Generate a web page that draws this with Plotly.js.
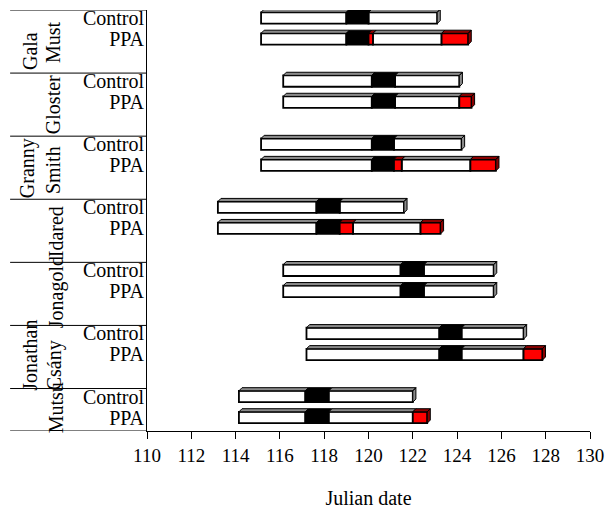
<!DOCTYPE html>
<html>
<head>
<meta charset="utf-8">
<script src="https://cdn.plot.ly/plotly-3.0.1.min.js"></script>
<style>html,body{margin:0;padding:0;background:#fff;}</style>
</head>
<body>
<div id="chart" style="width:613px;height:509px;"></div>
<script>
// ---- data (Julian dates) ----
const varieties = ["Gala Must", "Gloster", "Granny Smith", "Idared", "Jonagold", "Jonathan Csány", "Mutsu"];
const treatments = ["Control", "PPA"];
const ctrlStart      = [115.15, 116.15, 115.15, 113.2, 116.15, 117.2, 114.15];
const ctrlBlackStart = [119.0, 120.15, 120.15, 117.65, 121.45, 123.2, 117.15];
const ctrlBlackEnd   = [120.0, 121.2, 121.15, 118.7, 122.5, 124.2, 118.2];
const ctrlEnd        = [123.1, 124.1, 124.2, 121.6, 125.65, 127.0, 122.0];
const ppaStart       = [115.15, 116.15, 115.15, 113.2, 116.15, 117.2, 114.15];
const ppaBlackStart  = [119.0, 120.15, 120.15, 117.65, 121.45, 123.2, 117.15];
const ppaBlackEnd    = [120.0, 121.2, 121.15, 118.7, 122.5, 124.2, 118.2];
const ppaRed1End     = [120.2, 121.2, 121.5, 119.3, 122.5, 124.2, 118.2];
const ppaWhiteEnd    = [123.3, 124.1, 124.6, 122.35, 125.65, 127.0, 122.0];
const ppaEnd         = [124.5, 124.65, 125.75, 123.25, 125.65, 127.85, 122.65];
const xTicks = [110, 112, 114, 116, 118, 120, 122, 124, 126, 128, 130];

// ---- build rows ----
const rows = [];
varieties.forEach((v, g) => {
  rows.push({ y: 3 * g, label: treatments[0], segs: [
    [ctrlStart[g], ctrlBlackStart[g], 'w'],
    [ctrlBlackStart[g], ctrlBlackEnd[g], 'k'],
    [ctrlBlackEnd[g], ctrlEnd[g], 'w']
  ]});
  rows.push({ y: 3 * g + 1, label: treatments[1], segs: [
    [ppaStart[g], ppaBlackStart[g], 'w'],
    [ppaBlackStart[g], ppaBlackEnd[g], 'k'],
    [ppaBlackEnd[g], ppaRed1End[g], 'r'],
    [ppaRed1End[g], ppaWhiteEnd[g], 'w'],
    [ppaWhiteEnd[g], ppaEnd[g], 'r']
  ].filter(s => s[1] - s[0] > 0.001)});
});

const frontCol = { w: '#ffffff', k: '#000000', r: '#ff0000' };
const faceCol  = { w: '#8a8a8a', k: '#000000', r: '#8b0000' };
const BW = 0.54;       // bar thickness (y units)
const DX = 0.14, DY = 0.15; // 3-D depth

const traces = [];
// front faces
['w', 'k', 'r'].forEach(c => {
  const ys = [], bases = [], lens = [];
  rows.forEach(r => r.segs.forEach(s => {
    if (s[2] === c) { ys.push(r.y); bases.push(s[0]); lens.push(s[1] - s[0]); }
  }));
  traces.push({
    type: 'bar', orientation: 'h', y: ys, base: bases, x: lens, width: BW,
    marker: { color: frontCol[c], line: { color: '#000', width: 1.8 } },
    hoverinfo: 'skip', showlegend: false
  });
});
// top and side faces
['w', 'k', 'r'].forEach(c => {
  const px = [], py = [];
  rows.forEach(r => {
    const yt = r.y - BW / 2, yb = r.y + BW / 2;
    r.segs.forEach((s, i) => {
      if (s[2] !== c) return;
      px.push(s[0], s[1], s[1] + DX, s[0] + DX, s[0], null);
      py.push(yt, yt, yt - DY, yt - DY, yt, null);
      if (i === r.segs.length - 1) {
        px.push(s[1], s[1] + DX, s[1] + DX, s[1], s[1], null);
        py.push(yt, yt - DY, yb - DY, yb, yt, null);
      }
    });
  });
  traces.push({
    type: 'scatter', mode: 'lines', x: px, y: py, fill: 'toself',
    fillcolor: faceCol[c], line: { color: '#000', width: 1 },
    hoverinfo: 'skip', showlegend: false, connectgaps: false
  });
});

// group separators & variety labels
const shapes = [];
const annotations = [];
const sepX0 = -0.309;
for (let g = 0; g < varieties.length; g++) {
  shapes.push({ type: 'line', xref: 'paper', yref: 'y', x0: sepX0, x1: 0, y0: 3 * g - 0.38, y1: 3 * g - 0.38, line: { color: '#000', width: 1 } });
}
shapes.push({ type: 'line', xref: 'paper', yref: 'y', x0: sepX0, x1: 0, y0: 19.64, y1: 19.64, line: { color: '#000', width: 1 } });

const labelFont = { family: 'Liberation Serif, Times New Roman, serif', size: 20, color: '#000' };
const varLabels = [
  ['Gala', -0.264, 1.57], ['Must', -0.212, 1.14],
  ['Gloster', -0.212, 4.14],
  ['Granny', -0.268, 7.13], ['Smith', -0.212, 7.23],
  ['Idared', -0.205, 10.18],
  ['Jonagold', -0.205, 13.03],
  ['Jonathan', -0.266, 16.05], ['Csány', -0.207, 16.5],
  ['Mutsu', -0.205, 18.55]
];
varLabels.forEach(l => annotations.push({
  text: l[0], xref: 'paper', yref: 'y', x: l[1], y: l[2], textangle: -90,
  showarrow: false, xanchor: 'center', yanchor: 'middle', font: labelFont
}));

const layout = {
  width: 613, height: 509,
  margin: { l: 147, r: 23, t: 10, b: 78 },
  paper_bgcolor: '#fff', plot_bgcolor: '#fff',
  barmode: 'overlay',
  font: labelFont,
  xaxis: {
    range: [110, 130], tickvals: xTicks, ticktext: xTicks.map(String),
    ticks: 'outside', ticklen: 7, tickwidth: 1, tickcolor: '#000',
    showline: true, linecolor: '#000', linewidth: 1, showgrid: false, zeroline: false,
    tickfont: { family: 'Liberation Serif, Times New Roman, serif', size: 19, color: '#000' },
    title: { text: 'Julian date', font: labelFont, standoff: 26 },
    fixedrange: true
  },
  yaxis: {
    range: [19.64, -0.38],
    tickvals: rows.map(r => r.y), ticktext: rows.map(r => r.label),
    ticks: '', showline: true, linecolor: '#000', linewidth: 1,
    showgrid: false, zeroline: false, ticklabelstandoff: -2,
    tickfont: labelFont, fixedrange: true
  },
  shapes: shapes,
  annotations: annotations
};

Plotly.newPlot('chart', traces, layout, { staticPlot: true, displayModeBar: false });
</script>
</body>
</html>
